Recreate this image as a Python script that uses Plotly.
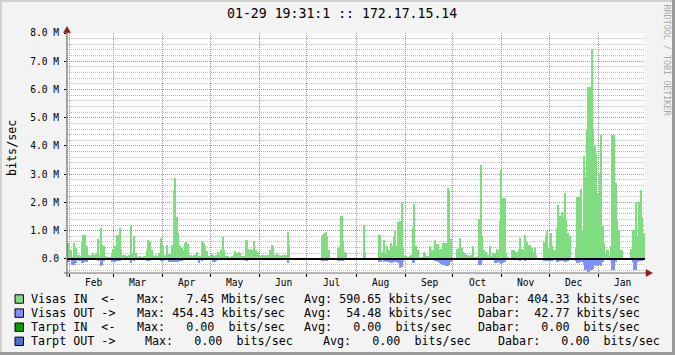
import datetime as dt
import plotly.graph_objects as go

N = None
START = dt.datetime(2006, 1, 30, 12, 0)
N_DAYS = 365

# Daily averages, Mbit/s (None = no data)
visas_in_mbps = [
    0.55, 0.5, 0.3, 0.05, 0.55, 0.4, 0.15, 0.12, 0.1, 0.6,
    0.85, 0.85, 0.45, 0.15, 0.1, 0.12, 0.2, 0.15, 0.2, 0.7,
    0.15, 1.1, 0.5, 0.45, 0.1, 0.05, 0.05, 0.05, 0.2, 0.35,
    0.45, 0.85, 0.85, 1.08, 0.3, 0.15, 0.15, 0.1, 0.1, 0.15,
    1.15, 0.2, 0.82, 0.2, 0.1, 0.05, 0.1, 0.05, 0.1, 0.1,
    0.3, 0.68, 0.6, 0.3, 0.15, 0.1, 0.15, 0.1, 0.2, 0.74,
    0.44, 0.12, 0.12, 0.48, 0.19, 0.19, 0.48, 2.45, 2.87, 1.49,
    0.9, 0.44, 0.38, 0.33, 0.55, 0.6, 0.54, 0.15, 0.12, 0.1,
    0.15, 0.15, 0.23, 0.1, 0.1, 0.65, 0.57, 0.47, 0.27, 0.1,
    0.1, 0.19, 0.15, 0.1, 0.12, 0.24, 0.15, 0.33, 0.78, 0.33,
    0.1, 0.1, 0.07, 0.07, 0.1, 0.15, 0.27, 0.2, 0.24, 0.2,
    0.1, 0.1, 0.1, 0.68, 0.35, 0.3, 0.35, 0.3, 0.65, 0.3,
    0.25, 0.1, 0.1, 0.12, 0.15, 0.1, 0.12, 0.15, 0.3, 0.5,
    0.45, 0.15, 0.2, 0.15, 0.12, 0.1, 0.15, 0.12, 0.15, 0.95,
    0.5, N, N, N, N, N, N, N, N, N,
    N, N, N, N, N, N, N, N, N, N,
    N, 0.85, 0.9, 0.95, 0.8, 0.3, N, N, N, N,
    N, 0.4, 0.47, 1.53, 0.59, 0.24, 0.2, N, N, N,
    N, N, N, N, N, N, N, 1.2, 0.25, N,
    N, N, N, N, N, N, N, 0.83, 0.2, 0.25,
    0.68, 0.2, 0.47, 0.33, 0.57, 0.45, 0.8, 1.0, 0.47, 1.3,
    1.33, 2.0, 0.4, 0.1, 0.1, 0.08, 0.1, 0.12, 1.1, 1.96,
    0.45, 0.3, 0.05, 0.05, 0.05, 0.25, 0.2, 0.1, 0.1, 0.47,
    0.3, 0.33, 0.66, 0.54, 0.54, 0.33, 0.35, 0.57, 0.55, 0.55,
    2.5, 2.45, 0.7, N, N, N, 0.35, 0.4, 0.75, 0.4,
    0.25, 0.2, 0.15, 0.15, 0.1, 0.15, 0.45, 0.05, 0.08, 0.1,
    1.4, 3.34, 0.8, 0.3, 0.25, 0.15, 0.12, 0.45, 0.1, 0.2,
    0.2, 0.35, 0.3, 1.35, 3.15, 2.15, 2.15, 0.2, 0.05, N,
    N, 0.3, 0.3, 0.25, 0.25, 0.35, 0.75, 0.35, 0.3, 0.85,
    0.6, 0.5, 0.5, 0.4, 0.25, 0.4, 0.15, N, N, N,
    N, 0.6, 0.86, 0.98, 0.4, 0.9, 0.45, 0.33, 0.3, 1.1,
    1.92, 1.53, 1.65, 1.5, 2.34, 1.37, 0.9, 0.8, N, N,
    N, 0.39, 2.2, 2.2, 2.48, 1.04, 3.66, 2.9, 4.58, 6.1,
    6.1, 7.45, 4.6, 4.05, 3.7, 2.34, 3.04, 4.37, 1.16, 0.57,
    0.2, 0.33, 0.1, 0.45, 4.4, 4.4, 2.7, 1.4, 1.04, 0.33,
    0.33, N, N, N, N, N, 0.35, 1.04, 1.04, 2.0,
    0.8, 2.0, 2.45, 1.5, 0.9,
]

visas_out_mbps = [
    0.12, 0.1, 0.05, 0.2, 0.2, 0.15, 0.05, 0.08, 0.08, 0.16,
    0.16, 0.12, 0.1, 0.05, 0.03, 0.04, 0.03, 0.05, 0.05, 0.08,
    0.05, 0.26, 0.2, 0.08, 0.03, 0.02, 0.02, 0.03, 0.12, 0.1,
    0.12, 0.08, 0.08, 0.06, 0.05, 0.03, 0.03, 0.02, 0.03, 0.05,
    0.16, 0.05, 0.06, 0.03, 0.02, 0.02, 0.03, 0.02, 0.03, 0.04,
    0.06, 0.08, 0.08, 0.05, 0.03, 0.02, 0.03, 0.02, 0.05, 0.08,
    0.06, 0.03, 0.03, 0.05, 0.1, 0.12, 0.12, 0.12, 0.1, 0.12,
    0.1, 0.08, 0.06, 0.05, 0.04, 0.05, 0.04, 0.03, 0.02, 0.02,
    0.03, 0.03, 0.05, 0.16, 0.04, 0.06, 0.05, 0.04, 0.03, 0.02,
    0.03, 0.05, 0.1, 0.12, 0.08, 0.03, 0.03, 0.04, 0.05, 0.03,
    0.02, 0.02, 0.02, 0.02, 0.03, 0.03, 0.04, 0.03, 0.03, 0.03,
    0.02, 0.04, 0.05, 0.06, 0.04, 0.03, 0.04, 0.03, 0.05, 0.03,
    0.03, 0.02, 0.02, 0.03, 0.03, 0.02, 0.03, 0.04, 0.05, 0.05,
    0.04, 0.03, 0.03, 0.02, 0.03, 0.02, 0.03, 0.02, 0.03, 0.14,
    0.05, N, N, N, N, N, N, N, N, N,
    N, N, N, N, N, N, N, N, N, N,
    N, 0.08, 0.08, 0.06, 0.06, 0.03, N, N, N, N,
    N, 0.08, 0.08, 0.08, 0.08, 0.04, 0.03, N, N, N,
    N, N, N, N, N, N, N, 0.05, 0.02, N,
    N, N, N, N, N, N, N, 0.12, 0.12, 0.05,
    0.1, 0.08, 0.12, 0.1, 0.14, 0.16, 0.12, 0.1, 0.12, 0.16,
    0.32, 0.3, 0.1, 0.03, 0.05, 0.03, 0.03, 0.05, 0.16, 0.16,
    0.05, 0.03, 0.02, 0.02, 0.02, 0.03, 0.03, 0.02, 0.02, 0.05,
    0.04, 0.05, 0.06, 0.08, 0.1, 0.15, 0.18, 0.2, 0.22, 0.26,
    0.24, 0.2, 0.1, N, N, N, 0.04, 0.05, 0.05, 0.04,
    0.03, 0.02, 0.02, 0.02, 0.02, 0.03, 0.04, 0.02, 0.02, 0.03,
    0.2, 0.2, 0.08, 0.04, 0.03, 0.02, 0.02, 0.04, 0.03, 0.05,
    0.16, 0.14, 0.12, 0.16, 0.18, 0.16, 0.1, 0.03, 0.02, N,
    N, 0.05, 0.05, 0.04, 0.03, 0.05, 0.08, 0.04, 0.03, 0.06,
    0.05, 0.05, 0.04, 0.03, 0.03, 0.04, 0.02, N, N, N,
    N, 0.06, 0.08, 0.08, 0.06, 0.08, 0.06, 0.05, 0.05, 0.1,
    0.12, 0.08, 0.08, 0.08, 0.1, 0.1, 0.06, 0.05, N, N,
    N, 0.08, 0.14, 0.14, 0.12, 0.1, 0.2, 0.4, 0.4, 0.45,
    0.4, 0.4, 0.35, 0.2, 0.26, 0.26, 0.2, 0.26, 0.1, 0.05,
    0.03, 0.04, 0.03, 0.08, 0.4, 0.38, 0.1, 0.05, 0.05, 0.03,
    0.03, N, N, N, N, N, 0.05, 0.1, 0.4, 0.38,
    0.1, 0.08, 0.08, 0.06, 0.05,
]

month_labels = ["Feb", "Mar", "Apr", "May", "Jun", "Jul", "Aug", "Sep", "Oct", "Nov", "Dec", "Jan"]
month_starts = ["2006-02-01", "2006-03-01", "2006-04-01", "2006-05-01", "2006-06-01", "2006-07-01",
                "2006-08-01", "2006-09-01", "2006-10-01", "2006-11-01", "2006-12-01", "2007-01-01"]

y_major_m = [0, 1, 2, 3, 4, 5, 6, 7, 8]
y_tick_text = ["0.0", "1.0 M", "2.0 M", "3.0 M", "4.0 M", "5.0 M", "6.0 M", "7.0 M", "8.0 M"]
y_range_m = [-0.5, 8.0]

title_text = "01-29 19:31:1 :: 172.17.15.14"
y_title = "bits/sec"
watermark = "RRDTOOL / TOBI OETIKER"

legend_names = ["Visas IN  <-", "Visas OUT ->", "Tarpt IN  <-", "Tarpt OUT ->"]
legend_max = ["Max:   7.45 Mbits/sec", "Max: 454.43 kbits/sec", "Max:   0.00  bits/sec", "Max:   0.00  bits/sec"]
legend_avg = ["Avg: 590.65 kbits/sec", "Avg:  54.48 kbits/sec", "Avg:   0.00  bits/sec", "Avg:   0.00  bits/sec"]
legend_cur = ["Dabar: 404.33 kbits/sec", "Dabar:  42.77 kbits/sec", "Dabar:   0.00  bits/sec", "Dabar:   0.00  bits/sec"]

GREEN = "#80DC80"
BLUE = "#8090FF"
legend_colors = [GREEN, BLUE, "#00A000", "#5070D0"]

# ---- geometry helpers (figure pixels -> paper coords) ----
W, H = 675, 355
ML, MR, MT, MB = 67, 30, 33, 82
PW, PH = W - ML - MR, H - MT - MB


def px(x):
    return (x - ML) / PW


def py(y):
    return (H - MB - y) / PH


DAY_MS = 86400000
centers = [START + dt.timedelta(days=d, hours=12) for d in range(N_DAYS)]
in_bits = [None if v is None else v * 1e6 for v in visas_in_mbps]
out_bits = [None if v is None else -v * 1e6 for v in visas_out_mbps]

fig = go.Figure()
fig.add_trace(go.Bar(x=centers, y=in_bits, width=DAY_MS, marker=dict(color=GREEN, line=dict(width=0)),
                     hoverinfo="skip"))
fig.add_trace(go.Bar(x=centers, y=out_bits, width=DAY_MS, marker=dict(color=BLUE, line=dict(width=0)),
                     hoverinfo="skip"))

MONO = "DejaVu Sans Mono"
MAJOR_GRID = "#E07878"
MINOR_GRID = "#BBBBBB"
DOTS = "1px,1px"

minor_vals = [k * 0.2e6 for k in range(-2, 41) if k % 5 != 0]

fig.update_layout(
    width=W, height=H,
    margin=dict(l=ML, r=MR, t=MT, b=MB, pad=0),
    paper_bgcolor="#F3F3F3", plot_bgcolor="#FFFFFF",
    showlegend=False, barmode="overlay", bargap=0,
    xaxis=dict(
        type="date", range=[START, START + dt.timedelta(days=N_DAYS)],
        tickmode="array", tickvals=month_starts, showticklabels=False,
        showgrid=True, gridcolor=MAJOR_GRID, griddash=DOTS, gridwidth=1,
        ticks="outside", ticklen=3, tickcolor="#000000", tickwidth=1,
        showline=False, zeroline=False, fixedrange=True, automargin=False,
    ),
    yaxis=dict(
        range=[y_range_m[0] * 1e6, y_range_m[1] * 1e6],
        tickmode="array", tickvals=[v * 1e6 for v in y_major_m], ticktext=y_tick_text,
        showgrid=True, gridcolor=MAJOR_GRID, griddash=DOTS, gridwidth=1,
        minor=dict(tickmode="array", tickvals=minor_vals, showgrid=True,
                   gridcolor=MINOR_GRID, griddash=DOTS, gridwidth=1, ticks=""),
        ticks="outside", ticklen=2, tickcolor="#000000", tickwidth=1,
        ticklabelstandoff=3,
        tickfont=dict(family=MONO, size=9.6, color="#000000"),
        showline=False, zeroline=False, fixedrange=True, automargin=False,
    ),
)

shapes = []
# zero line
shapes.append(dict(type="line", xref="paper", yref="y", x0=0, x1=1, y0=0, y1=0,
                   line=dict(color="#000000", width=2), layer="above"))
# axes lines
shapes.append(dict(type="line", xref="paper", yref="paper", x0=px(64), x1=px(647), y0=0, y1=0,
                   line=dict(color="#707070", width=1), layer="above"))
shapes.append(dict(type="line", xref="paper", yref="paper", x0=0, x1=0, y0=py(277), y1=py(30),
                   line=dict(color="#505050", width=1), layer="above"))
# arrows
ARROW = "#8E1B1B"
shapes.append(dict(type="path", xref="paper", yref="paper", layer="above",
                   path=f"M {px(63.5)} {py(32.5)} L {px(67)} {py(26.5)} L {px(70.5)} {py(32.5)} Z",
                   fillcolor=ARROW, line=dict(color=ARROW, width=0.5)))
shapes.append(dict(type="path", xref="paper", yref="paper", layer="above",
                   path=f"M {px(646)} {py(269.5)} L {px(652.5)} {py(273)} L {px(646)} {py(276.5)} Z",
                   fillcolor=ARROW, line=dict(color=ARROW, width=0.5)))
# frame shading
shapes.append(dict(type="rect", xref="paper", yref="paper", x0=px(0), x1=px(W), y0=py(0), y1=py(2),
                   fillcolor="#D2D2D2", line=dict(width=0)))
shapes.append(dict(type="rect", xref="paper", yref="paper", x0=px(0), x1=px(2), y0=py(0), y1=py(H),
                   fillcolor="#D2D2D2", line=dict(width=0)))
shapes.append(dict(type="rect", xref="paper", yref="paper", x0=px(0), x1=px(W), y0=py(H - 3), y1=py(H),
                   fillcolor="#9A9A9A", line=dict(width=0)))
shapes.append(dict(type="rect", xref="paper", yref="paper", x0=px(W - 3), x1=px(W), y0=py(0), y1=py(H),
                   fillcolor="#9A9A9A", line=dict(width=0)))

annotations = []


def add_text(text, x, y, size, color="#000000", xanchor="left", angle=0):
    annotations.append(dict(text=text.replace(" ", "\u00a0"), xref="paper", yref="paper",
                            x=px(x), y=py(y), xanchor=xanchor, yanchor="middle",
                            showarrow=False, textangle=angle,
                            font=dict(family=MONO, size=size, color=color)))


# month labels, placed mid-month on the date axis
for lab, ms in zip(month_labels, month_starts):
    pos = dt.datetime.fromisoformat(ms) + dt.timedelta(days=15, hours=12)
    annotations.append(dict(text=lab, xref="x", yref="paper", x=pos, y=py(282),
                            xanchor="center", yanchor="middle", showarrow=False,
                            font=dict(family=MONO, size=9.6, color="#000000")))

add_text(title_text, 341.5, 13, 13.2, xanchor="center")
add_text(y_title, 12, 148, 11.7, xanchor="center", angle=-90)
add_text(watermark, 666.5, 60, 8.4, color="#A8A8A8", xanchor="center", angle=90)

ROW0, ROWSTEP = 299, 14.1
xs_std = [29, 135.3, 302, 476.3]
xs_row4 = [29, 142.7, 320.7, 496.3]
for i in range(4):
    yc = ROW0 + ROWSTEP * i
    xs = xs_row4 if i == 3 else xs_std
    shapes.append(dict(type="rect", xref="paper", yref="paper",
                       x0=px(15), x1=px(23.5), y0=py(yc - 4.2), y1=py(yc + 4.2),
                       fillcolor=legend_colors[i], line=dict(color="#000000", width=1)))
    add_text(legend_names[i], xs[0], yc, 11.7)
    add_text(legend_max[i], xs[1], yc, 11.7)
    add_text(legend_avg[i], xs[2], yc, 11.7)
    add_text(legend_cur[i], xs[3], yc, 11.7)

fig.update_layout(shapes=shapes, annotations=annotations)
fig.write_html("out.html")
